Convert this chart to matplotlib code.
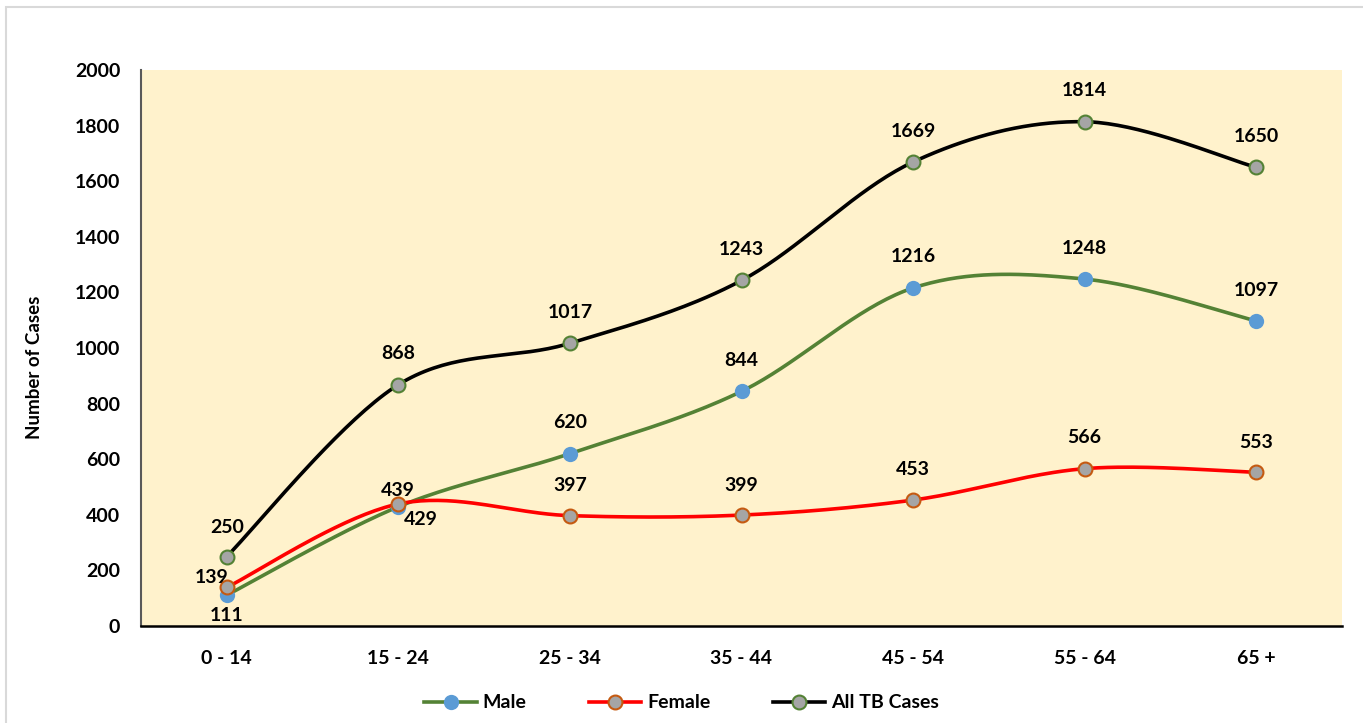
import numpy as np
import matplotlib
matplotlib.use('Agg')
import matplotlib.pyplot as plt
from matplotlib.lines import Line2D
from matplotlib.patches import Rectangle

# data
age_groups = ['0 - 14', '15 - 24', '25 - 34', '35 - 44', '45 - 54', '55 - 64', '65 +']
male = [111, 429, 620, 844, 1216, 1248, 1097]
female = [139, 439, 397, 399, 453, 566, 553]
all_tb = [250, 868, 1017, 1243, 1669, 1814, 1650]

# label offsets in pixels (dx, dy) from each point
male_offsets = [(0, -20), (22, -13), (0, 31), (0, 31), (0, 31), (0, 31), (0, 31)]
female_offsets = [(-15, 10), (-1, 13), (0, 30), (0, 30), (0, 31), (0, 31), (0, 30)]
all_offsets = [(0, 29), (0, 31), (0, 31), (0, 31), (0, 31), (0, 31), (0, 31)]

plt.rcParams['font.family'] = ['Lato', 'DejaVu Sans']
plt.rcParams['font.weight'] = 'bold'

DPI = 100
FS = 14
fig = plt.figure(figsize=(13.63, 7.23), dpi=DPI)
fig.patches.append(Rectangle((6 / 1363, -0.1), 1.2, (723 - 7) / 723 + 0.1,
                             transform=fig.transFigure, fill=False,
                             edgecolor='#d9d9d9', linewidth=1.5))
ax = fig.add_axes([141 / 1363, 1 - 626 / 723, (1342 - 141) / 1363, (626 - 70) / 723])
ax.set_facecolor('#fff2cc')


def smooth(xs, ys, n=40):
    # excel-like smoothing: bezier segments with catmull-rom control points
    p = np.column_stack([xs, ys]).astype(float)
    ext = np.vstack([p[0], p, p[-1]])
    t = np.linspace(0, 1, n)[:, None]
    out = []
    for i in range(len(p) - 1):
        p0, p1, p2, p3 = ext[i], ext[i + 1], ext[i + 2], ext[i + 3]
        c1 = p1 + (p2 - p0) / 6
        c2 = p2 - (p3 - p1) / 6
        seg = ((1 - t) ** 3) * p1 + 3 * ((1 - t) ** 2) * t * c1 + 3 * (1 - t) * t ** 2 * c2 + t ** 3 * p2
        out.append(seg)
    out = np.vstack(out)
    return out[:, 0], out[:, 1]


x = np.arange(len(age_groups))
series = [
    ('Male', male, '#548235', dict(marker='o', markersize=11, markerfacecolor='#5b9bd5',
                                   markeredgecolor='#5b9bd5', markeredgewidth=0), male_offsets),
    ('Female', female, '#ff0000', dict(marker='o', markersize=10, markerfacecolor='#a5a5a5',
                                       markeredgecolor='#c55a11', markeredgewidth=1.5), female_offsets),
    ('All TB Cases', all_tb, '#000000', dict(marker='o', markersize=10, markerfacecolor='#a5a5a5',
                                             markeredgecolor='#548235', markeredgewidth=1.5), all_offsets),
]

handles = []
for name, vals, col, mk, offs in series:
    sx, sy = smooth(x, vals)
    ax.plot(sx, sy, color=col, linewidth=2.6, solid_capstyle='round', zorder=2)
    ax.plot(x, vals, linestyle='none', zorder=3, **mk)
    handles.append(Line2D([0], [0], color=col, linewidth=2.6, label=name, **mk))
    for xi, v, (dx, dy) in zip(x, vals, offs):
        ax.annotate(str(v), (xi, v), xytext=(dx * 72 / DPI, dy * 72 / DPI),
                    textcoords='offset points', ha='center', va='center',
                    fontsize=FS, fontweight='bold', color='#000000', zorder=4)

ax.set_xlim(-0.5, len(age_groups) - 0.5)
ax.set_ylim(0, 2000)
ax.set_yticks(range(0, 2001, 200))
ax.set_xticks(x)
ax.set_xticklabels(age_groups)
ax.tick_params(axis='both', length=0, labelsize=FS)
ax.tick_params(axis='y', pad=15)
ax.tick_params(axis='x', pad=17)
for lbl in ax.get_xticklabels() + ax.get_yticklabels():
    lbl.set_fontweight('bold')

ax.spines[['top', 'right']].set_visible(False)
ax.spines['left'].set_color('#595959')
ax.spines['left'].set_linewidth(1.5)
ax.spines['bottom'].set_color('#000000')
ax.spines['bottom'].set_linewidth(1.8)

fig.text(35 / 1363, 1 - 367 / 723, 'Number of Cases', rotation=90, ha='center', va='center',
         fontsize=13.5, fontweight='bold')

fig.legend(handles=handles, loc='center', bbox_to_anchor=(0.5, 1 - 703 / 723), ncol=3,
           frameon=False, fontsize=FS, handlelength=2.7, columnspacing=3.2, handletextpad=0.3)

fig.savefig('out.png', dpi=DPI)
